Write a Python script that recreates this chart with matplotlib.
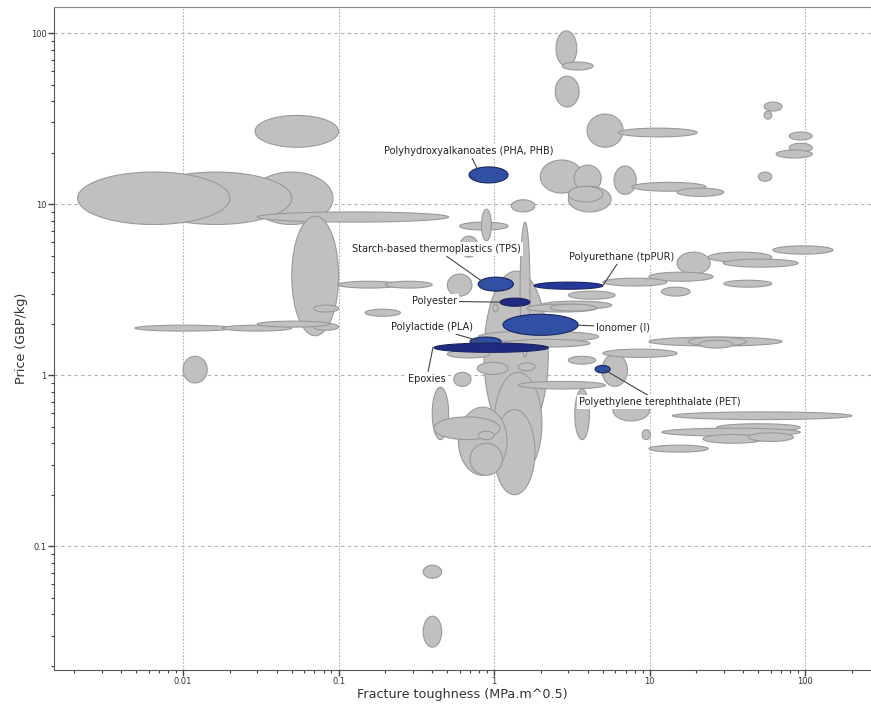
import numpy as np
import matplotlib
matplotlib.use('Agg')
import matplotlib.pyplot as plt
from matplotlib.ticker import LogLocator, FuncFormatter, NullFormatter

# Vung gia tri (min, max) cua tung vat lieu: do dai pha huy va gia
gray_k_lo = [0.027, 0.0053, 0.0021, 0.029, 0.030, 0.050, 0.069, 0.069, 0.0049, 0.018, 0.030, 0.010,
             0.099, 0.20, 0.148, 0.86, 1.0, 1.0, 0.59, 0.70, 0.40, 0.41, 0.79, 0.78, 1.43, 0.55, 1.43,
             3.3, 4.95, 5.8, 8.95, 2.5, 2.74, 2.47, 3.96, 6.3, 1.98, 3.27, 3.0, 3.0, 5.9, 7.7, 15.0,
             1.29, 0.60, 0.83, 1.47, 0.50, 0.60, 0.985, 0.50, 0.79, 1.18, 15.0, 23.8, 29.7, 62.0, 9.9,
             5.0, 30.0, 11.9, 3.0, 2.0, 1.63, 2.3, 9.9, 17.7, 20.8, 5.0, 3.0, 14.0, 27.0, 12.0, 22.0,
             43.0, 9.9, 54.5, 54.5, 79.0, 79.0, 65.0, 50.0, 0.35, 0.35]
gray_k_hi = [0.092, 0.050, 0.020, 0.10, 0.51, 0.10, 0.10, 0.10, 0.021, 0.050, 0.088, 0.0143,
             0.25, 0.40, 0.25, 2.23, 2.03, 1.83, 1.21, 1.13, 0.51, 1.09, 1.0, 1.23, 1.83, 0.71, 5.2,
             4.1, 7.2, 10.0, 10.1, 3.4, 4.33, 3.52, 6.76, 20.2, 3.73, 4.88, 5.65, 5.0, 8.2, 23.0, 30.0,
             1.83, 1.23, 0.96, 1.70, 0.72, 0.79, 1.06, 0.94, 4.7, 4.14, 24.5, 61.0, 90.0, 151.0, 25.6,
             12.9, 61.0, 18.2, 6.0, 5.7, 4.6, 4.5, 71.0, 42.0, 34.4, 15.0, 4.5, 200.0, 93.0, 93.0, 54.0,
             84.0, 23.8, 71.0, 61.0, 111.0, 111.0, 111.0, 61.0, 0.46, 0.46]
gray_p_lo = [7.6, 7.6, 7.6, 21.5, 7.85, 1.7, 2.34, 1.83, 1.81, 1.81, 1.91, 0.90,
             3.23, 3.23, 2.21, 0.42, 0.26, 0.20, 0.26, 0.26, 0.42, 0.42, 0.42, 1.01, 1.06, 0.86, 0.83,
             0.42, 0.86, 0.54, 0.42, 64.0, 60.8, 37.0, 21.5, 24.7, 11.6, 11.8, 9.0, 10.3, 11.4, 11.9, 11.1,
             9.0, 7.05, 6.1, 1.27, 2.9, 4.9, 2.34, 1.26, 1.56, 1.46, 3.9, 4.58, 4.28, 5.1, 3.54,
             3.32, 3.27, 2.9, 2.78, 2.43, 2.34, 2.37, 1.48, 1.48, 1.44, 1.27, 1.16, 0.55, 0.47, 0.44, 0.40,
             0.41, 0.355, 35.0, 31.4, 23.7, 20.1, 18.6, 13.6, 0.065, 0.0257]
gray_p_hi = [15.4, 15.4, 15.4, 33.0, 9.0, 8.5, 2.57, 2.01, 1.96, 1.96, 2.07, 1.29,
             3.54, 3.54, 2.43, 4.06, 1.04, 0.63, 0.65, 0.40, 0.85, 0.57, 0.47, 1.19, 1.18, 1.04, 0.92,
             0.83, 1.33, 0.72, 0.48, 103.0, 67.7, 56.0, 33.6, 27.8, 18.1, 16.9, 12.7, 12.7, 16.7, 13.4, 12.4,
             10.6, 7.85, 9.35, 7.85, 3.9, 6.5, 2.60, 1.40, 1.81, 1.62, 5.24, 5.24, 4.77, 5.7, 4.0,
             3.69, 3.59, 3.27, 3.10, 2.71, 2.60, 2.60, 1.67, 1.67, 1.60, 1.42, 1.29, 0.61, 0.52, 0.49, 0.45,
             0.46, 0.39, 39.5, 35.0, 26.4, 22.7, 20.7, 15.4, 0.0774, 0.039]

# Vat lieu duoc to mau xanh (sinh hoc / polyme)
hl_names = ['Polyhydroxyalkanoates (PHA, PHB)', 'Starch-based thermoplastics (TPS)',
            'Polyurethane (tpPUR)', 'Polyester', 'Ionomer (I)', 'Polylactide (PLA)',
            'Epoxies', 'Polyethylene terephthalate (PET)']
hl_k_lo = [0.69, 0.79, 1.81, 1.09, 1.14, 0.70, 0.41, 4.46]
hl_k_hi = [1.23, 1.33, 5.0, 1.70, 3.47, 1.11, 2.23, 5.57]
hl_p_lo = [13.3, 3.1, 3.18, 2.53, 1.71, 1.48, 1.36, 1.03]
hl_p_hi = [16.5, 3.74, 3.50, 2.82, 2.27, 1.67, 1.54, 1.14]
hl_colors = ['#3050a4', '#3050a4', '#24389a', '#1f2a80', '#3050a4', '#3050a4', '#1f2a80', '#3050a4']

# vi tri nhan va diem noi duong chi
lbl_xy = [(0.685, 20.4), (0.427, 5.45), (6.61, 4.90), (0.414, 2.71),
          (6.76, 1.91), (0.396, 1.91), (0.368, 0.947), (11.6, 0.695)]
tip_xy = [(0.777, 16.2), (0.837, 3.54), (5.02, 3.36), (1.093, 2.67),
          (3.47, 1.96), (0.813, 1.58), (0.405, 1.46), (5.17, 1.07)]


def ellipse_pts(lo_x, hi_x, lo_y, hi_y, n=120):
    cx = (np.log10(lo_x) + np.log10(hi_x)) / 2
    rx = (np.log10(hi_x) - np.log10(lo_x)) / 2
    cy = (np.log10(lo_y) + np.log10(hi_y)) / 2
    ry = (np.log10(hi_y) - np.log10(lo_y)) / 2
    t = np.linspace(0, 2 * np.pi, n)
    return 10 ** (cx + rx * np.cos(t)), 10 ** (cy + ry * np.sin(t))


fig = plt.figure(figsize=(8.71, 7.06), dpi=100)
ax = fig.add_axes([54 / 871, 36 / 706, 817 / 871, 663 / 706])
ax.set_xscale('log')
ax.set_yscale('log')
ax.set_xlim(0.00148, 265)
ax.set_ylim(0.0189, 142)

for i in range(len(gray_k_lo)):
    xs, ys = ellipse_pts(gray_k_lo[i], gray_k_hi[i], gray_p_lo[i], gray_p_hi[i])
    ax.fill(xs, ys, facecolor='#c0c0c0', edgecolor='#999999', linewidth=0.8, zorder=2)

for i in range(len(hl_names)):
    xs, ys = ellipse_pts(hl_k_lo[i], hl_k_hi[i], hl_p_lo[i], hl_p_hi[i])
    ax.fill(xs, ys, facecolor=hl_colors[i], edgecolor='#1a2460', linewidth=0.8, zorder=3)
    ax.annotate(hl_names[i], xy=tip_xy[i], xytext=lbl_xy[i], ha='center', va='center',
                fontsize=7, color='#222222', zorder=4,
                bbox=dict(facecolor='white', edgecolor='none', pad=1.5),
                arrowprops=dict(arrowstyle='-', color='#444444', lw=0.8, shrinkA=0, shrinkB=0))

ax.xaxis.grid(True, which='major', color='#b0b0b0', linestyle=(0, (1.5, 1.5)), linewidth=0.8)
ax.yaxis.grid(True, which='major', color='#b0b0b0', linestyle=(0, (3, 3)), linewidth=0.8)
ax.set_axisbelow(True)

fmt = FuncFormatter(lambda v, p: '{:g}'.format(v))
for axis in (ax.xaxis, ax.yaxis):
    axis.set_major_locator(LogLocator(base=10))
    axis.set_minor_locator(LogLocator(base=10, subs=np.arange(2, 10)))
    axis.set_major_formatter(fmt)
    axis.set_minor_formatter(NullFormatter())
ax.tick_params(which='major', length=4.3, width=1, color='#444444', labelsize=6,
               labelcolor='#333333', pad=1)
ax.tick_params(which='minor', length=2.2, width=0.8, color='#444444')

ax.spines['right'].set_visible(False)
ax.spines['top'].set_color('#888888')
ax.spines['left'].set_color('#555555')
ax.spines['bottom'].set_color('#555555')

ax.set_xlabel('Fracture toughness (MPa.m^0.5)', fontsize=9.2, color='#333333', labelpad=1)
ax.set_ylabel('Price (GBP/kg)', fontsize=9.2, color='#333333', labelpad=2)

fig.savefig('out.png', dpi=100)
